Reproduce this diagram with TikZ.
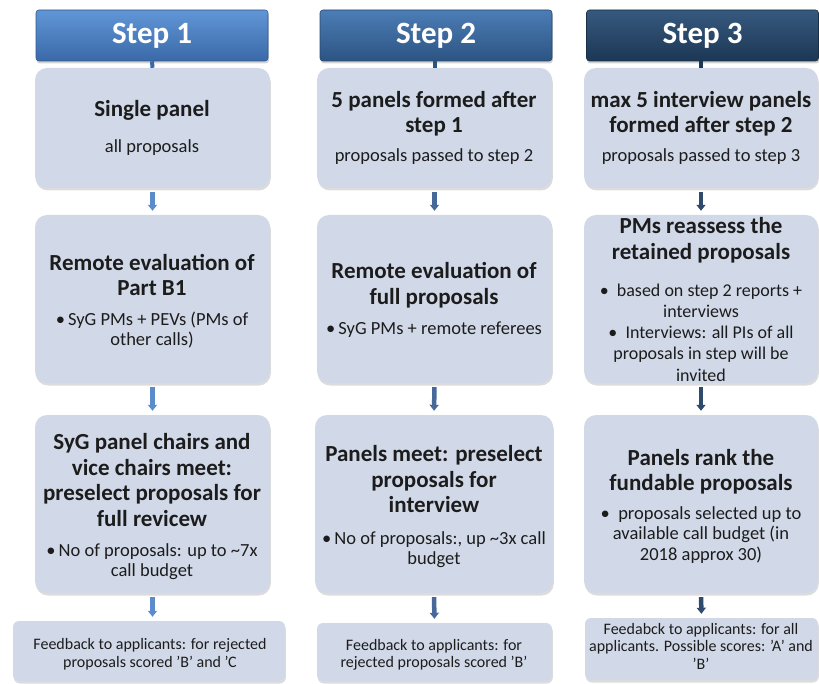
\documentclass[tikz,border=0pt]{standalone}
\usepackage{fontspec}
\setmainfont{Carlito}
\usetikzlibrary{arrows.meta,shadows}
\definecolor{boxfill}{HTML}{D1D9E8}
\definecolor{txt}{HTML}{1C1C1C}
\definecolor{hAtop}{HTML}{6196D6}
\definecolor{hAbot}{HTML}{3A69A8}
\definecolor{hBtop}{HTML}{4C7DB6}
\definecolor{hBbot}{HTML}{2C5482}
\definecolor{hCtop}{HTML}{36597F}
\definecolor{hCbot}{HTML}{1D3754}
\definecolor{arA}{HTML}{5B8BCB}
\definecolor{arB}{HTML}{47699A}
\definecolor{arC}{HTML}{2E4A6C}
\begin{document}
\begin{tikzpicture}[x=1pt,y=-1pt,
  box/.style={fill=boxfill, rounded corners=12pt, inner sep=0pt,
    drop shadow={opacity=0.28, shadow xshift=0.8pt, shadow yshift=-2.5pt}},
  hdr/.style={rounded corners=3pt, inner sep=0pt, text=white, draw=#1!85!black, line width=0.6pt,
    font=\fontsize{31}{34}\selectfont\bfseries,
    drop shadow={opacity=0.35, shadow xshift=0.8pt, shadow yshift=-2.5pt},
    minimum width=232pt, minimum height=51pt},
  ttl/.style={align=center, inner sep=0pt, text=txt, font=\fontsize{23}{25.5}\selectfont\bfseries},
  sub/.style={align=center, inner sep=0pt, text=txt, font=\fontsize{18.5}{20.5}\selectfont},
  fbt/.style={align=center, inner sep=0pt, text=txt, font=\fontsize{16}{17.5}\selectfont},
  flow/.style={draw=#1, line width=4.5pt, -{Triangle[width=9pt,length=6pt]},
    shorten <=4pt, shorten >=4pt},
  stub/.style={draw=#1, line width=4pt}
]
\useasboundingbox (0,0) rectangle (819,684);

% headers
\node[hdr=hAbot, top color=hAtop, bottom color=hAbot] (h1) at (152,35.5) {Step 1};
\node[hdr=hBbot, top color=hBtop, bottom color=hBbot] (h2) at (436,35.5) {Step 2};
\node[hdr=hCbot, top color=hCtop, bottom color=hCbot] (h3) at (702.5,35.5) {Step 3};

% row 1
\node[box, minimum width=235pt, minimum height=120pt] (b11) at (152.5,128) {};
\node[box, minimum width=235pt, minimum height=120pt] (b12) at (434.5,128) {};
\node[box, minimum width=234pt, minimum height=120pt] (b13) at (701,128) {};
% row 2
\node[box, minimum width=235pt, minimum height=168pt] (b21) at (152.5,299) {};
\node[box, minimum width=235pt, minimum height=168pt] (b22) at (434.5,299) {};
\node[box, minimum width=234pt, minimum height=168pt] (b23) at (701,299) {};
% row 3
\node[box, minimum width=235pt, minimum height=178pt] (b31) at (152.5,504) {};
\node[box, minimum width=238pt, minimum height=178pt] (b32) at (434,504) {};
\node[box, minimum width=234pt, minimum height=178pt] (b33) at (701,504) {};
% row 4
\node[box, rounded corners=6pt, minimum width=272pt, minimum height=60pt] (b41) at (149,651) {};
\node[box, rounded corners=6pt, minimum width=235pt, minimum height=58pt] (b42) at (434.5,652) {};
\node[box, rounded corners=6pt, minimum width=233pt, minimum height=62pt] (b43) at (701.5,649) {};

% texts row 1
\node[ttl] (t11) at (152,110) {Single panel};
\node[sub] (s11) at (152,148) {all proposals};
\node[ttl] (t12) at (434,113.5) {5 panels formed after\\step 1};
\node[sub] (s12) at (434,157) {proposals passed to step 2};
\node[ttl] (t13) at (701,113.5) {max 5 interview panels\\formed after step 2};
\node[sub] (s13) at (701,157) {proposals passed to step 3};

% texts row 2
\node[ttl] (t21) at (152,275) {Remote evaluation of\\Part B1};
\node[sub] (s21) at (152,330) {\textbullet\,SyG PMs + PEVs (PMs of\\other calls)};
\node[ttl] (t22) at (434,285) {Remote evaluation of\\full proposals};
\node[sub] (s22) at (434,330) {\textbullet\,SyG PMs + remote referees};
\node[ttl] (t23) at (701,240) {PMs reassess the\\retained proposals};
\node[sub, font=\fontsize{18}{21.2}\selectfont] (s23) at (701,332.5) {\textbullet\ \ based on step 2 reports +\\interviews\\\textbullet\ \ Interviews: all PIs of all\\proposals in step will be\\invited};

% texts row 3
\node[ttl] (t31) at (152,480) {SyG panel chairs and\\vice chairs meet:\\preselect proposals for\\full revicew};
\node[sub] (s31) at (152,561.5) {\textbullet\,No of proposals: up to \textasciitilde7x\\call budget};
\node[ttl] (t32) at (434,479.5) {Panels meet: preselect\\proposals for\\interview};
\node[sub] (s32) at (434,549.5) {\textbullet\,No of proposals:, up \textasciitilde3x call\\budget};
\node[ttl] (t33) at (701,471.5) {Panels rank the\\fundable proposals};
\node[sub] (s33) at (701,535) {\textbullet\ \ proposals selected up to\\available call budget (in\\2018 approx 30)};

% texts row 4
\node[fbt] (f1) at (150,654) {Feedback to applicants: for rejected\\proposals scored 'B' and 'C};
\node[fbt] (f2) at (434,655) {Feedback to applicants: for\\rejected proposals scored 'B'};
\node[fbt] (f3) at (701,646) {Feedabck to applicants: for all\\applicants. Possible scores: 'A' and\\'B'};

% connectors
\draw[stub=hAbot] (h1.south) -- (b11.north);
\draw[stub=hBbot] (h2.south -| b12.north) -- (b12.north);
\draw[stub=hCbot] (h3.south -| b13.north) -- (b13.north);

\draw[flow=arA] (b11.south) -- (b21.north);
\draw[flow=arA] (b21.south) -- (b31.north);
\draw[flow=arA] (b31.south) -- (b41.north -| b31.south);

\draw[flow=arB] (b12.south) -- (b22.north);
\draw[flow=arB] (b22.south) -- (b32.north);
\draw[flow=arB] (b32.south) -- (b42.north);

\draw[flow=arC] (b13.south) -- (b23.north);
\draw[flow=arC] (b23.south) -- (b33.north);
\draw[flow=arC] (b33.south) -- (b43.north);
\end{tikzpicture}
\end{document}
